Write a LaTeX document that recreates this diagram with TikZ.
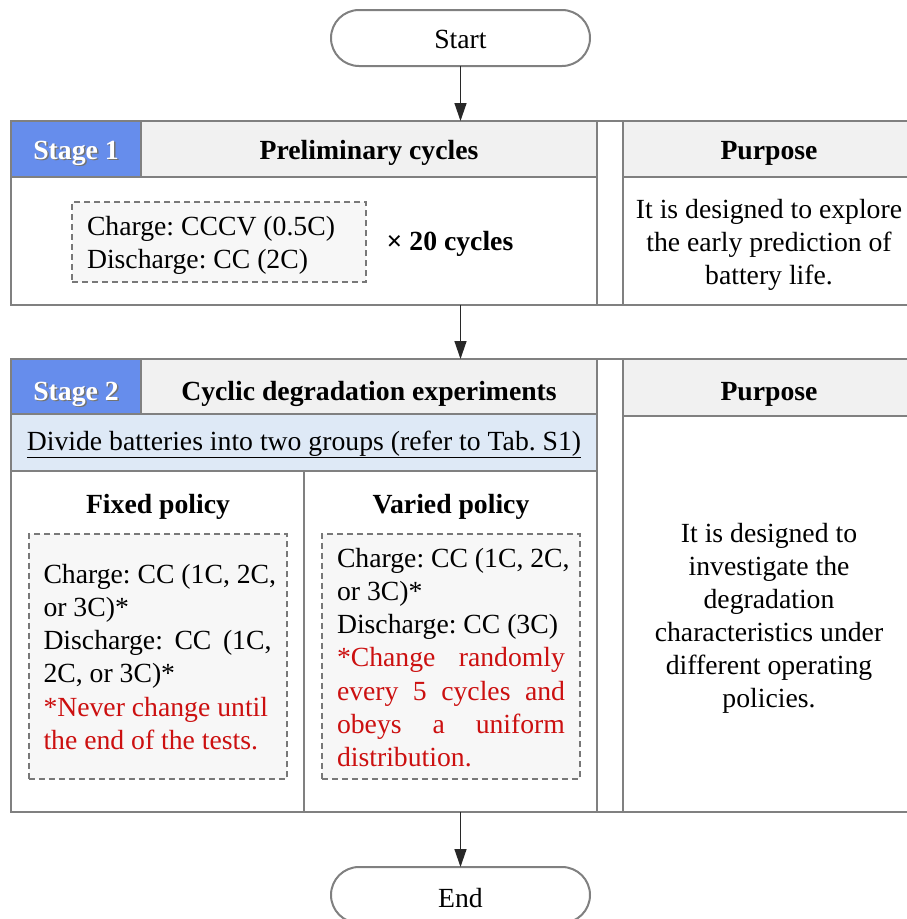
\documentclass[tikz,border=0pt]{standalone}
\usepackage{fontspec}
\setmainfont{Liberation Serif}
\usetikzlibrary{arrows.meta}
\definecolor{bord}{RGB}{128,128,128}
\definecolor{stageblue}{RGB}{102,141,236}
\definecolor{hdrgray}{RGB}{241,241,241}
\definecolor{rowblue}{RGB}{222,233,246}
\definecolor{dashfill}{RGB}{247,247,247}
\definecolor{dashcol}{RGB}{120,120,120}
\definecolor{redtxt}{RGB}{204,16,16}
\definecolor{arrowcol}{RGB}{40,40,40}
\begin{document}
\frenchspacing
\begin{tikzpicture}[x=1pt,y=-1pt,
  every node/.style={inner sep=0pt, outer sep=0pt, font=\fontsize{27.7}{33.3}\selectfont\frenchspacing},
  cell/.style={draw=bord, line width=2pt, anchor=north west},
  dbox/.style={draw=dashcol, fill=dashfill, line width=1.5pt, dash pattern=on 6pt off 4pt, anchor=north west},
  term/.style={draw=bord, line width=2pt, fill=white, rounded corners=28pt, minimum width=259pt, minimum height=56pt},
  conn/.style={draw=arrowcol, line width=1.4pt, -{Triangle[length=18pt,width=12pt]}},
  txt/.style={anchor=base},
  ltxt/.style={anchor=base west},
  rtxt/.style={anchor=base west, text=redtxt},
  tagtext/.style={anchor=base, text=white, font=\fontsize{27.7}{33.3}\selectfont\bfseries},
  tagshadow/.style={anchor=base, text=black!55, font=\fontsize{27.7}{33.3}\selectfont\bfseries},
  hdr/.style={anchor=base, font=\fontsize{27.7}{33.3}\selectfont\bfseries}
]
\useasboundingbox (0,0) rectangle (906,919);

% Start
\node[term] (start) at (460.5,38) {};
\node[txt] (starttxt) at (460.5,48) {Start};

% Stage 1
\node[cell, minimum width=586pt, minimum height=184pt] (s1) at (11,121) {};
\node[cell, fill=hdrgray, minimum width=456pt, minimum height=56pt] (s1h) at (141,121) {};
\node[cell, fill=stageblue, minimum width=130pt, minimum height=56pt] (s1tag) at (11,121) {};
\node[cell, minimum width=26pt, minimum height=184pt] (g1) at (597,121) {};
\node[cell, minimum width=290pt, minimum height=184pt] (p1) at (623,121) {};
\node[cell, fill=hdrgray, minimum width=290pt, minimum height=56pt] (p1h) at (623,121) {};

\node[tagshadow] (s1sh) at (77.5,160.5) {Stage 1};
\node[tagtext] (s1lab) at (76,159) {Stage 1};
\node[hdr] (s1title) at (369,159) {Preliminary cycles};
\node[hdr] (p1title) at (769,159) {Purpose};

\node[dbox, minimum width=294pt, minimum height=80pt] (d1) at (72,202) {};
\node[ltxt] (d1a) at (87,235) {Charge: CCCV (0.5C)};
\node[ltxt] (d1b) at (87,268) {Discharge: CC (2C)};
\node[hdr] (times) at (450,250) {× 20 cycles};
\node[txt] (p1a) at (769,218) {It is designed to explore};
\node[txt] (p1b) at (769,251) {the early prediction of};
\node[txt] (p1c) at (769,284) {battery life.};

% Stage 2
\node[cell, minimum width=586pt, minimum height=453pt] (s2) at (11,359) {};
\node[cell, fill=hdrgray, minimum width=456pt, minimum height=55pt] (s2h) at (141,359) {};
\node[cell, fill=stageblue, minimum width=130pt, minimum height=55pt] (s2tag) at (11,359) {};
\node[cell, fill=rowblue, minimum width=586pt, minimum height=57pt] (row) at (11,414) {};
\node[cell, minimum width=293pt, minimum height=341pt] (colL) at (11,471) {};
\node[cell, minimum width=293pt, minimum height=341pt] (colR) at (304,471) {};
\node[cell, minimum width=26pt, minimum height=453pt] (g2) at (597,359) {};
\node[cell, minimum width=290pt, minimum height=453pt] (p2) at (623,359) {};
\node[cell, fill=hdrgray, minimum width=290pt, minimum height=57pt] (p2h) at (623,359) {};

\node[tagshadow] (s2sh) at (77.5,401.5) {Stage 2};
\node[tagtext] (s2lab) at (76,400) {Stage 2};
\node[hdr] (s2title) at (369,400) {Cyclic degradation experiments};
\node[hdr] (p2title) at (769,400) {Purpose};
\node[txt] (rowtxt) at (304,450) {\underline{Divide batteries into two groups (refer to Tab. S1)}};

\node[hdr] (fixedtitle) at (158,513) {Fixed policy};
\node[hdr] (variedtitle) at (451,513) {Varied policy};

\node[dbox, minimum width=258pt, minimum height=245pt] (dL) at (29,534) {};
\node[dbox, minimum width=258pt, minimum height=245pt] (dR) at (322,534) {};

\node[ltxt] (dL1) at (43.5,583) {Charge: CC (1C, 2C,};
\node[ltxt] (dL2) at (43.5,616.3) {or 3C)*};
\node[ltxt] (dL3) at (43.5,649.6) {\makebox[228pt][s]{Discharge: CC (1C,}};
\node[ltxt] (dL4) at (43.5,682.9) {2C, or 3C)*};
\node[rtxt] (dL5) at (43.5,716.2) {*Never change until};
\node[rtxt] (dL6) at (43.5,749.5) {the end of the tests.};

\node[ltxt] (dR1) at (337,567) {Charge: CC (1C, 2C,};
\node[ltxt] (dR2) at (337,600.3) {or 3C)*};
\node[ltxt] (dR3) at (337,633.6) {Discharge: CC (3C)};
\node[rtxt] (dR4) at (337,666.9) {\makebox[228pt][s]{*Change randomly}};
\node[rtxt] (dR5) at (337,700.2) {\makebox[228pt][s]{every 5 cycles and}};
\node[rtxt] (dR6) at (337,733.5) {\makebox[228pt][s]{obeys a uniform}};
\node[rtxt] (dR7) at (337,766.8) {distribution.};

\node[txt] (p2a) at (769,542) {It is designed to};
\node[txt] (p2b) at (769,575) {investigate the};
\node[txt] (p2c) at (769,608) {degradation};
\node[txt] (p2d) at (769,641) {characteristics under};
\node[txt] (p2e) at (769,674) {different operating};
\node[txt] (p2f) at (769,707) {policies.};

% End
\node[term] (endn) at (460.5,895) {};
\node[txt] (endtxt) at (460.5,907) {End};

% connectors
\draw[conn] (start.south) -- (start.south |- s1.north);
\draw[conn] (start.south |- s1.south) -- (start.south |- s2.north);
\draw[conn] (start.south |- s2.south) -- (endn.north);
\end{tikzpicture}
\end{document}
